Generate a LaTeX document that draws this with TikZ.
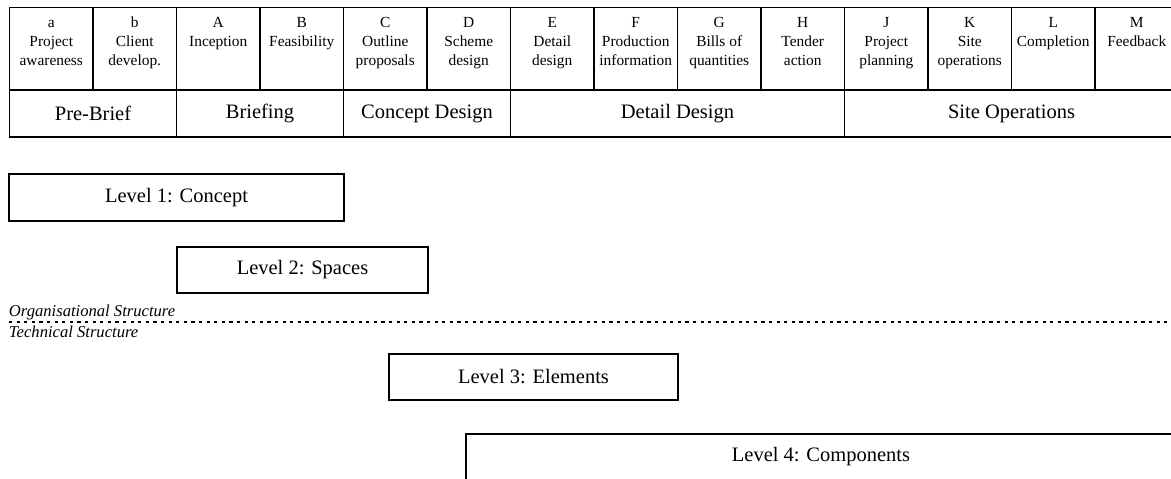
\documentclass[tikz,border=0pt]{standalone}
\usepackage{fontspec}
\setmainfont{Liberation Serif}
\usetikzlibrary{positioning}

\begin{document}
\begin{tikzpicture}[
    x=0.5pt, y=-0.5pt,
    every node/.style={outer sep=0pt},
    stagecell/.style={rectangle, draw, line width=0.7pt, minimum width=41.75pt,
                      minimum height=41.35pt, anchor=north west},
    stagetext/.style={align=center, inner sep=0pt, font=\fontsize{7.7}{9.5}\selectfont},
    phase/.style={rectangle, draw, line width=0.7pt, minimum height=23.5pt,
                  anchor=north west, font=\fontsize{10.25}{12}\selectfont},
    level/.style={rectangle, draw, line width=0.7pt, minimum height=23pt,
                  anchor=north west, font=\fontsize{10.25}{12}\selectfont},
    note/.style={anchor=west, inner sep=0pt, font=\fontsize{8.3}{10}\selectfont\itshape},
    divider/.style={line width=1pt, dash pattern=on 1.6pt off 2.2pt},
]
    \useasboundingbox (0,0) rectangle (1171,478);
    \clip (0,0) rectangle (1171,478);

    % plan of work stages
    \foreach \code/\stage [count=\i from 0] in {a/{Project\\awareness}, b/{Client\\develop.},
        A/{Inception}, B/{Feasibility}, C/{Outline\\proposals}, D/{Scheme\\design},
        E/{Detail\\design}, F/{Production\\information}, G/{Bills of\\quantities},
        H/{Tender\\action}, J/{Project\\planning}, K/{Site\\operations},
        L/{Completion}, M/{Feedback}}{
        \node[stagecell] (st-\code) at (\i*83.5+9.5, 7.3) {};
        \node[stagetext, below=3.2pt of st-\code.north] (tx-\code) {\strut\code\\\stage};
    }

    % phases
    \foreach \phase/\from/\span [count=\k] in {Pre-Brief/0/2, Briefing/2/2,
        Concept Design/4/2, Detail Design/6/4, Site Operations/10/4}{
        \node[phase, minimum width=\span*41.75pt] (ph\k) at (\from*83.5+9.5, 90) {\phase};
    }

    % levels
    \node[level, minimum width=167.5pt, minimum height=23.5pt] (lv1) at (9,174) {Level 1: Concept};
    \node[level, minimum width=125.5pt] (lv2) at (177,247) {Level 2: Spaces};
    \node[level, minimum width=144.5pt] (lv3) at (389,354) {Level 3: Elements};
    \node[level, minimum width=355pt] (lv4) at (466,434) {Level 4: Components};

    % organisational / technical split
    \coordinate (divL) at (9,322);
    \coordinate (divR) at (1171,322);
    \draw[divider] (divL) -- (divR);
    \node[note] (org) at (9,312) {Organisational Structure};
    \node[note] (tech) at (9,332) {Technical Structure};
\end{tikzpicture}
\end{document}
